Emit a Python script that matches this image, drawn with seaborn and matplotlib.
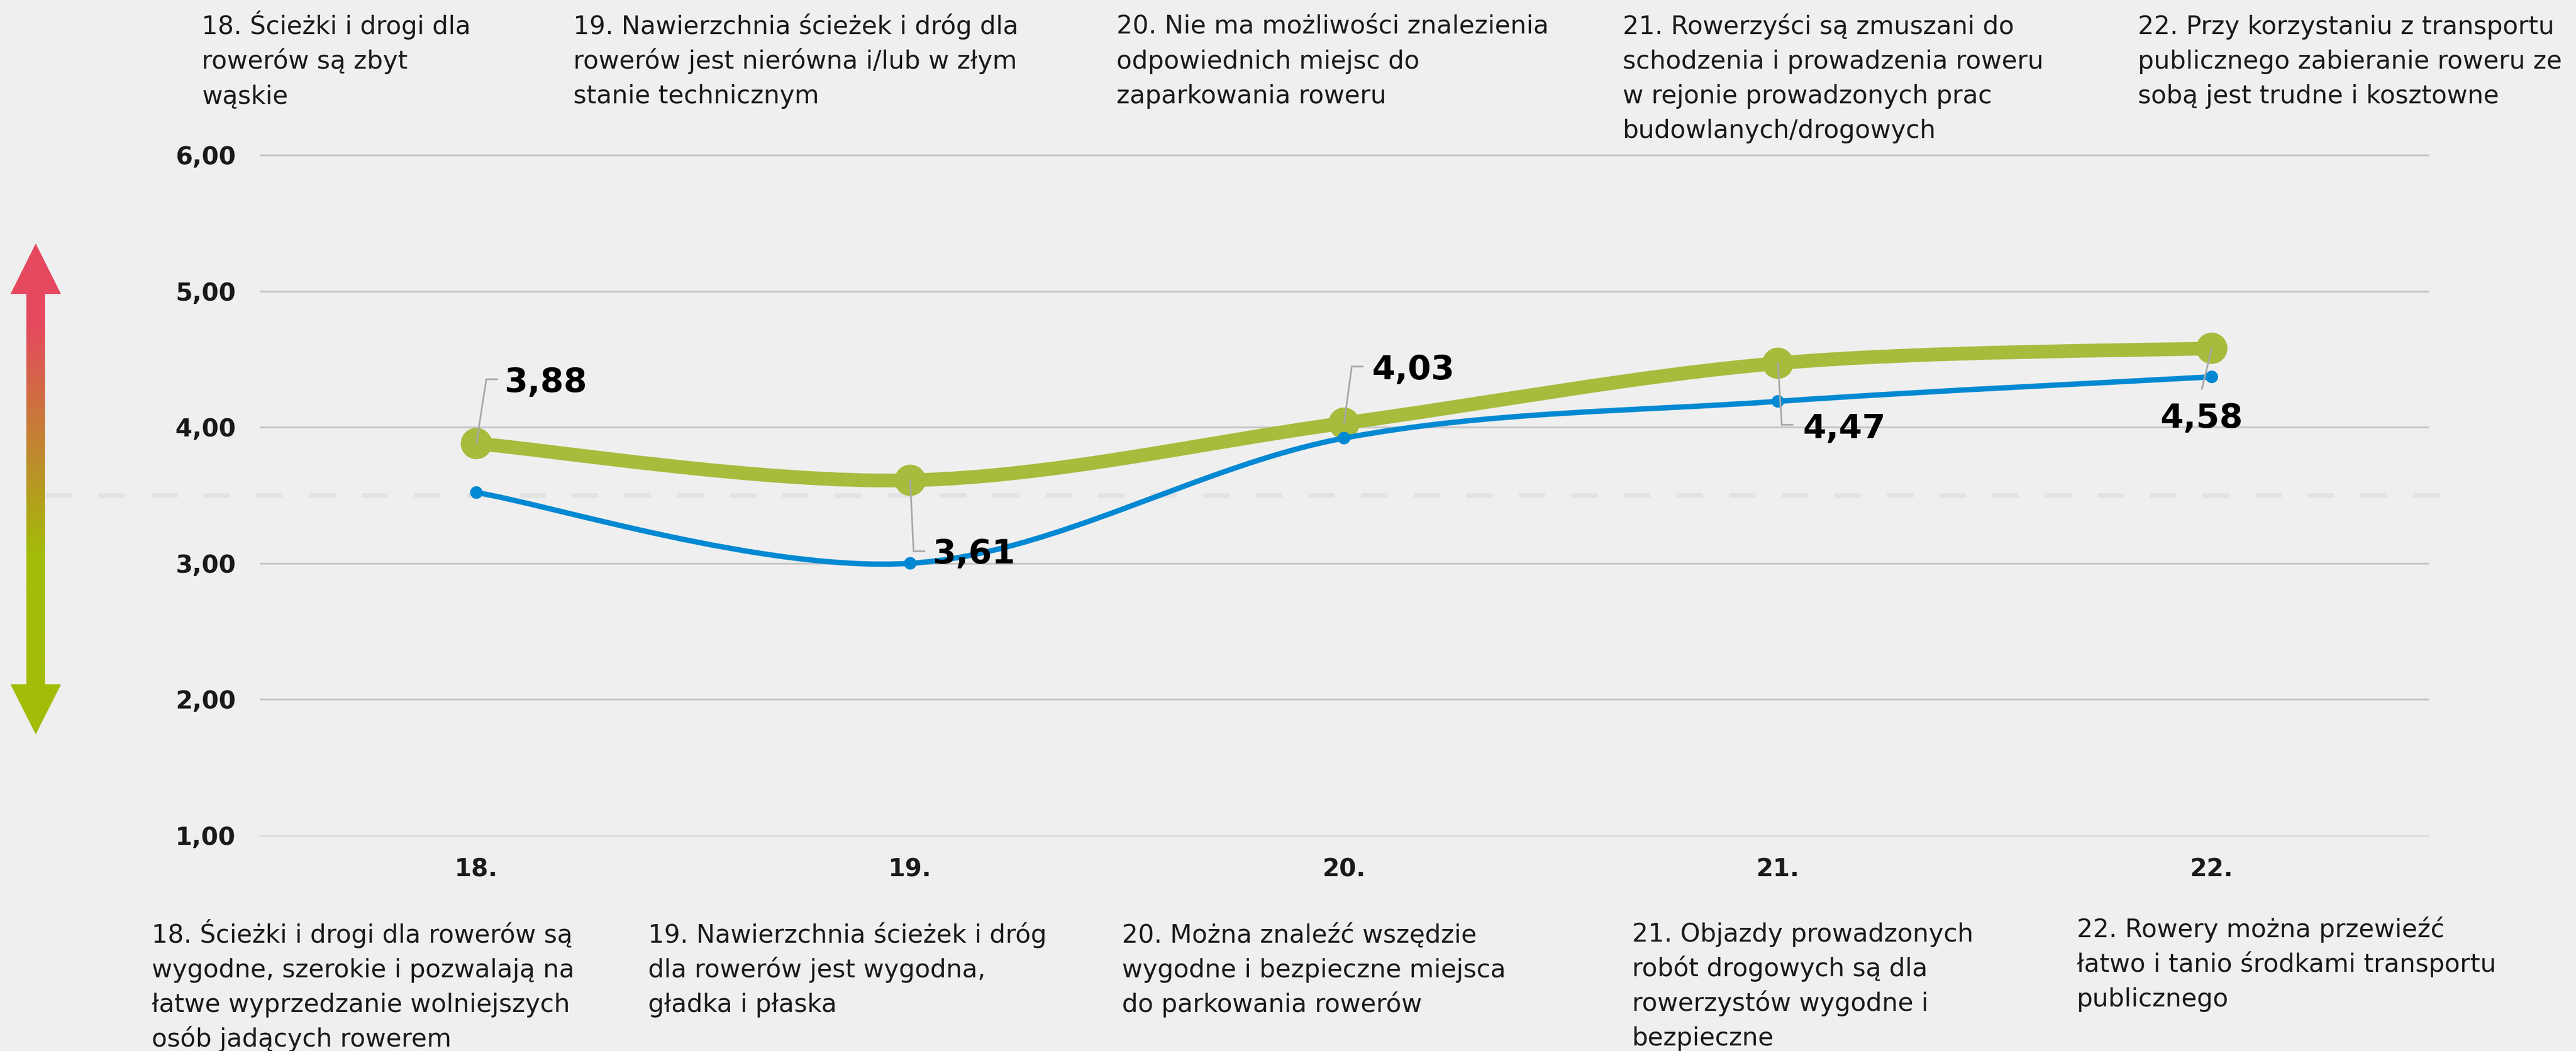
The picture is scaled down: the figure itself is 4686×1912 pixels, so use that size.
import numpy as np
import pandas as pd
import seaborn as sns
import matplotlib.pyplot as plt
import matplotlib.transforms as mtransforms
from matplotlib.path import Path
from matplotlib.patches import PathPatch, Polygon
from matplotlib.colors import LinearSegmentedColormap

# --- data ---
categories = ["18.", "19.", "20.", "21.", "22."]
green_values = [3.88, 3.61, 4.03, 4.47, 4.58]
blue_values = [3.52, 3.00, 3.92, 4.19, 4.37]
value_labels = ["3,88", "3,61", "4,03", "4,47", "4,58"]
y_ticks = [1, 2, 3, 4, 5, 6]
y_tick_labels = ["1,00", "2,00", "3,00", "4,00", "5,00", "6,00"]
neutral_level = 3.5

top_texts = [
    "18. Ścieżki i drogi dla\nrowerów są zbyt\nwąskie",
    "19. Nawierzchnia ścieżek i dróg dla\nrowerów jest nierówna i/lub w złym\nstanie technicznym",
    "20. Nie ma możliwości znalezienia\nodpowiednich miejsc do\nzaparkowania roweru",
    "21. Rowerzyści są zmuszani do\nschodzenia i prowadzenia roweru\nw rejonie prowadzonych prac\nbudowlanych/drogowych",
    "22. Przy korzystaniu z transportu\npublicznego zabieranie roweru ze\nsobą jest trudne i kosztowne",
]
bottom_texts = [
    "18. Ścieżki i drogi dla rowerów są\nwygodne, szerokie i pozwalają na\nłatwe wyprzedzanie wolniejszych\nosób jadących rowerem",
    "19. Nawierzchnia ścieżek i dróg\ndla rowerów jest wygodna,\ngładka i płaska",
    "20. Można znaleźć wszędzie\nwygodne i bezpieczne miejsca\ndo parkowania rowerów",
    "21. Objazdy prowadzonych\nrobót drogowych są dla\nrowerzystów wygodne i\nbezpieczne",
    "22. Rowery można przewieźć\nłatwo i tanio środkami transportu\npublicznego",
]

df = pd.DataFrame({"pos": np.arange(len(categories)), "green": green_values, "blue": blue_values})

# --- style ---
W, H = 4686, 1912
BG = "#EFEFEF"
GREEN = "#A8BB3C"
BLUE = "#0089D2"
TXT = "#1A1A1A"

sns.set_theme(style="white")
plt.rcParams["font.family"] = ["DejaVu Sans"]

fig = plt.figure(figsize=(W / 100, H / 100), dpi=100, facecolor=BG)

# overlay in pixel coords for the gradient arrow
ov = fig.add_axes([0, 0, 1, 1], zorder=0)
ov.set_xlim(0, W)
ov.set_ylim(H, 0)
ov.axis("off")
ov.patch.set_alpha(0)

ax = fig.add_axes([472 / W, (H - 1520) / H, 3946 / W, 1238 / H], zorder=1)
ax.set_facecolor("none")
ax.set_xlim(-0.5, 4.5)
ax.set_ylim(1, 6)
for s in ax.spines.values():
    s.set_visible(False)

# gridlines
grid_cols = ["#DCDCDC"] + ["#C6C6C6"] * 5
ax.hlines(y_ticks, -0.5, 4.5, colors=grid_cols, lw=2.4, zorder=1, clip_on=False)

# neutral dashed line, running across the whole figure width
blend = mtransforms.blended_transform_factory(fig.transFigure, ax.transData)
ax.plot([83 / W, 4448 / W], [neutral_level, neutral_level], transform=blend,
        color="#E3E3E3", lw=6.5, dashes=(5.3, 5.3), solid_capstyle="butt",
        zorder=1, clip_on=False)


def smooth_path(xs, ys):
    pts = np.column_stack([xs, ys]).astype(float)
    n = len(pts)
    verts = [pts[0]]
    codes = [Path.MOVETO]
    for i in range(n - 1):
        p0 = pts[max(i - 1, 0)]
        p1 = pts[i]
        p2 = pts[i + 1]
        p3 = pts[min(i + 2, n - 1)]
        verts += [p1 + (p2 - p0) / 6, p2 - (p3 - p1) / 6, p2]
        codes += [Path.CURVE4] * 3
    return Path(verts, codes)


# green series (thick)
ax.add_patch(PathPatch(smooth_path(df["pos"], df["green"]), fill=False, edgecolor=GREEN,
                       lw=18, capstyle="round", joinstyle="round", zorder=3, clip_on=False))
sns.scatterplot(data=df, x="pos", y="green", s=41 ** 2, color=GREEN, edgecolor="none",
                zorder=4, ax=ax, legend=False, clip_on=False)

# blue series (thin)
ax.add_patch(PathPatch(smooth_path(df["pos"], df["blue"]), fill=False, edgecolor=BLUE,
                       lw=7, capstyle="round", joinstyle="round", zorder=5, clip_on=False))
sns.scatterplot(data=df, x="pos", y="blue", s=16.5 ** 2, color=BLUE, edgecolor="none",
                zorder=6, ax=ax, legend=False, clip_on=False)

ax.set_xlabel("")
ax.set_ylabel("")
ax.set_xlim(-0.5, 4.5)
ax.set_ylim(1, 6)
ax.set_xticks(range(len(categories)), categories)
ax.set_yticks(y_ticks, y_tick_labels)
ax.tick_params(axis="both", length=0, labelsize=32, labelcolor=TXT)
ax.tick_params(axis="x", pad=29)
ax.tick_params(axis="y", pad=31)
for t in ax.get_xticklabels() + ax.get_yticklabels():
    t.set_fontweight("bold")

# value labels with leader lines (offsets in image pixels, y down)
leaders = [
    [(0, 0), (18, -117), (38, -117)],
    [(0, 0), (6, 129), (26, 129)],
    [(0, 0), (14, -103), (34, -103)],
    [(0, 0), (7, 112), (27, 112)],
    [(0, 0), (-18, 74)],
]
label_pos = [(51, -94, "left"), (41, 151, "left"), (50, -80, "left"),
             (45, 136, "left"), (-19, 144, "center")]
ident = mtransforms.IdentityTransform()
for i, (v, lbl) in enumerate(zip(green_values, value_labels)):
    xd, yd = ax.transData.transform((i, v))
    xs = [xd + dx for dx, dy in leaders[i]]
    ys = [yd - dy for dx, dy in leaders[i]]
    ax.plot(xs, ys, transform=ident, color="#A8A8A8", lw=2.2, zorder=7,
            clip_on=False, solid_joinstyle="miter")
    dx, dy, ha = label_pos[i]
    ax.annotate(lbl, xy=(i, v), xytext=(dx, -dy), textcoords="offset pixels",
                ha=ha, va="baseline", fontsize=44, fontweight="bold", color="black",
                zorder=8, annotation_clip=False)

# statement texts above and below
top_x = [367, 1043, 2031, 2952, 3889]
bottom_x = [276, 1179, 2041, 2969, 3778]
bottom_y = [1715, 1715, 1715, 1713, 1705]
line_gap = 63
for x0, txt in zip(top_x, top_texts):
    for k, line in enumerate(txt.split("\n")):
        fig.text(x0 / W, 1 - (62 + k * line_gap) / H, line, ha="left", va="baseline",
                 fontsize=33, color=TXT)
for x0, y0, txt in zip(bottom_x, bottom_y, bottom_texts):
    for k, line in enumerate(txt.split("\n")):
        fig.text(x0 / W, 1 - (y0 + k * line_gap) / H, line, ha="left", va="baseline",
                 fontsize=33, color=TXT)

# gradient double arrow on the left
arrow = Polygon([(65, 443), (111, 535), (82, 535), (82, 1245), (111, 1245), (65, 1336),
                 (19, 1245), (48, 1245), (48, 535), (19, 535)], closed=True,
                facecolor="none", edgecolor="none")
ov.add_patch(arrow)
rows = np.arange(443, 1337)
grad = np.clip((rows - 585) / (1012 - 585), 0, 1).reshape(-1, 1)
cmap = LinearSegmentedColormap.from_list("arr", ["#E6485F", "#A2BC08"])
img = ov.imshow(grad, cmap=cmap, extent=(19, 111, 1336, 443), aspect="auto",
                interpolation="bilinear", origin="upper")
img.set_clip_path(arrow)

fig.savefig("out.png", dpi=100, facecolor=BG)
